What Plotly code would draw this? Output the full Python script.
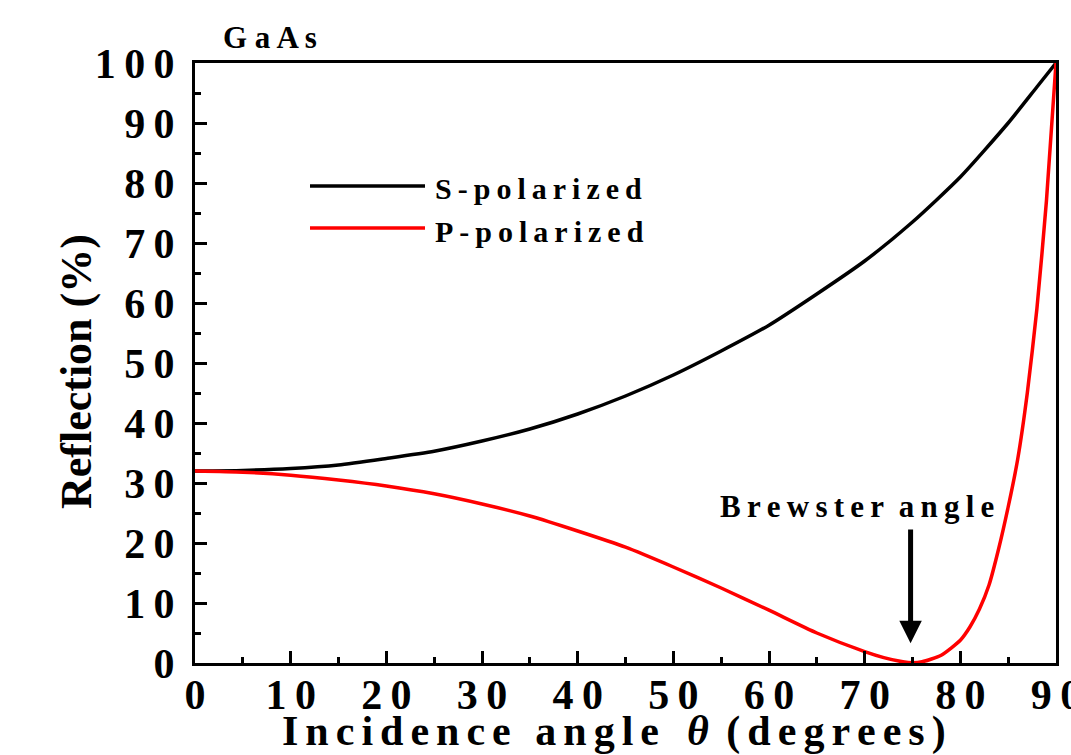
import plotly.graph_objects as go

# ---- data ----
angle_s = [0, 5, 10, 15, 20, 25, 30, 35, 40, 45, 50, 55, 60, 65, 70, 75, 80, 85, 88, 90]
refl_s = [32, 32.1, 32.4, 33, 34.1, 35.3, 37, 39, 41.5, 44.5, 48, 52, 56.3, 61.5, 67, 73.5, 81, 90, 96, 100]

angle_p = [0, 5, 10, 15, 20, 25, 30, 35, 40, 45, 50, 55, 60, 65, 70, 72, 74, 75, 76, 78, 80, 81, 82, 83, 84, 85, 86, 87, 88, 89, 90]
refl_p = [32, 31.8, 31.3, 30.5, 29.5, 28.2, 26.5, 24.5, 22, 19.3, 16, 12.5, 8.8, 5, 1.9, 0.9, 0.2, 0.05, 0.2, 1.3, 3.8, 6.0, 9, 13, 19, 26, 34, 45, 59, 77, 100]

x_ticks = [0, 10, 20, 30, 40, 50, 60, 70, 80, 90]
y_ticks = [0, 10, 20, 30, 40, 50, 60, 70, 80, 90, 100]
brewster_angle = 74.8
brewster_arrow = (22.5, 3.3)

TS = "\u2009"  # thin space for letter spacing
HS = "\u200a"  # hair space
def spaced(s, sep=TS):
    return sep.join(list(s))

FONT = "Liberation Serif"

fig = go.Figure()
fig.add_trace(go.Scatter(x=angle_s, y=refl_s, mode="lines", name="S-polarized",
                         line=dict(color="black", width=3.5, shape="spline", smoothing=0.6),
                         showlegend=False))
fig.add_trace(go.Scatter(x=angle_p, y=refl_p, mode="lines", name="P-polarized",
                         line=dict(color="#ff0000", width=3.5, shape="spline", smoothing=0.6),
                         showlegend=False))

axis_common = dict(
    showgrid=False, zeroline=False, showline=True, linecolor="black", linewidth=3,
    mirror=True, ticks="inside", ticklen=12, tickwidth=3, tickcolor="black",
    tickfont=dict(family=FONT, size=42, color="black", weight="bold"),
    ticklabeloverflow="allow",
)
fig.update_xaxes(range=[0, 90], tickvals=x_ticks, ticktext=[spaced(str(v)) for v in x_ticks],
                 minor=dict(dtick=5, ticks="inside", ticklen=6, tickwidth=3, tickcolor="black"),
                 ticklabelstandoff=-7, **axis_common)
fig.update_yaxes(range=[0, 100], tickvals=y_ticks, ticktext=[spaced(str(v)) for v in y_ticks],
                 minor=dict(dtick=5, ticks="inside", ticklen=6, tickwidth=3, tickcolor="black"),
                 ticklabelstandoff=9, **axis_common)

W, H = 1071, 755
L, R, T, B = 195, 15, 63, 92
pw, ph = W - L - R, H - T - B
def px(x):
    return (x - L) / pw
def py(y):
    return (H - B - y) / ph

anns = []
# axis titles
anns.append(dict(text="Reflection (%)", x=px(76), y=py(372), xref="paper", yref="paper",
                 textangle=-90, showarrow=False, xanchor="center", yanchor="middle",
                 font=dict(family=FONT, size=44, color="black", weight="bold")))
GAP = HS + HS
xt = GAP.join(list("Incidence angle")) + GAP + "  <i>\u03b8</i> " + GAP + GAP.join(list("(degrees)"))
anns.append(dict(text=xt, x=px(614), y=py(731), xref="paper", yref="paper",
                 showarrow=False, xanchor="center", yanchor="middle",
                 font=dict(family=FONT, size=42, color="black", weight="bold")))
# GaAs
anns.append(dict(text="G a A s", x=px(221), y=py(37), xref="paper", yref="paper",
                 showarrow=False, xanchor="left", yanchor="middle",
                 font=dict(family=FONT, size=31, color="black", weight="bold")))
# legend text
anns.append(dict(text=spaced("S-polarized"), x=px(433), y=py(188), xref="paper", yref="paper",
                 showarrow=False, xanchor="left", yanchor="middle",
                 font=dict(family=FONT, size=30, color="black", weight="bold")))
anns.append(dict(text=spaced("P-polarized"), x=px(433), y=py(231), xref="paper", yref="paper",
                 showarrow=False, xanchor="left", yanchor="middle",
                 font=dict(family=FONT, size=30, color="black", weight="bold")))
# Brewster label
anns.append(dict(text=spaced("Brewster") + "  " + spaced("angle"), x=px(857), y=py(506), xref="paper", yref="paper",
                 showarrow=False, xanchor="center", yanchor="middle",
                 font=dict(family=FONT, size=31, color="black", weight="bold")))
# arrow
anns.append(dict(x=brewster_angle, y=brewster_arrow[1], ax=brewster_angle, ay=brewster_arrow[0],
                 xref="x", yref="y", axref="x", ayref="y", text="", showarrow=True,
                 arrowhead=2, arrowsize=0.9, arrowwidth=5, arrowcolor="black"))

shapes = [
    dict(type="line", xref="paper", yref="paper", x0=px(310), x1=px(425), y0=py(186), y1=py(186),
         line=dict(color="black", width=3.5)),
    dict(type="line", xref="paper", yref="paper", x0=px(310), x1=px(425), y0=py(228), y1=py(228),
         line=dict(color="#ff0000", width=3.5)),
]

fig.update_layout(width=W, height=H, margin=dict(l=L, r=R, t=T, b=B, autoexpand=False),
                  paper_bgcolor="white", plot_bgcolor="white",
                  annotations=anns, shapes=shapes, showlegend=False)

fig.write_html("out.html")
